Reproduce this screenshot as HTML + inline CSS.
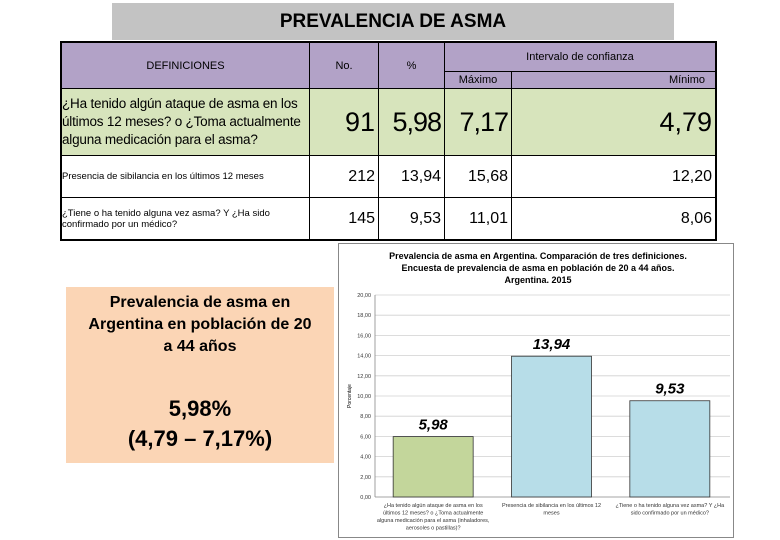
<!DOCTYPE html>
<html><head><meta charset="utf-8"><style>
body{margin:0;background:#fff;font-family:"Liberation Sans",sans-serif;}
#pg{position:relative;width:780px;height:540px;overflow:hidden;background:#fff;}
.a{position:absolute;box-sizing:border-box;}
.c{border-right:1px solid #000;border-bottom:1px solid #000;display:flex;align-items:center;}
.n{justify-content:flex-end;padding-right:3px;}
</style></head><body>
<div id="pg">
<div class="a" style="left:112px;top:3px;width:562px;height:37px;background:#c3c3c3;font-size:19px;font-weight:bold;display:flex;align-items:center;justify-content:center;">PREVALENCIA DE ASMA</div>

<div class="a" style="left:60px;top:41px;width:657px;height:200px;border:2px solid #000;">
 <div class="a c" style="left:0;top:0;width:248px;height:46px;background:#b2a2c7;justify-content:center;font-size:11px;">DEFINICIONES</div>
 <div class="a c" style="left:248px;top:0;width:69px;height:46px;background:#b2a2c7;justify-content:center;font-size:11px;">No.</div>
 <div class="a c" style="left:317px;top:0;width:66px;height:46px;background:#b2a2c7;justify-content:center;font-size:11px;">%</div>
 <div class="a c" style="left:383px;top:0;width:270px;height:29px;background:#b2a2c7;justify-content:center;font-size:11px;border-right:none;">Intervalo de confianza</div>
 <div class="a c" style="left:383px;top:29px;width:67px;height:17px;background:#b2a2c7;justify-content:center;font-size:11px;">Máximo</div>
 <div class="a c" style="left:450px;top:29px;width:203px;height:17px;background:#b2a2c7;justify-content:flex-end;padding-right:10px;font-size:11px;border-right:none;">Mínimo</div>

 <div class="a c" style="left:0;top:46px;width:248px;height:67px;background:#d7e4bc;font-size:13.5px;line-height:18px;letter-spacing:-0.2px;">¿Ha tenido algún ataque de asma en los últimos 12 meses? o ¿Toma actualmente alguna medicación para el asma?</div>
 <div class="a c n" style="left:248px;top:46px;width:69px;height:67px;background:#d7e4bc;font-size:27px;">91</div>
 <div class="a c n" style="left:317px;top:46px;width:66px;height:67px;background:#d7e4bc;font-size:27px;letter-spacing:-1px;">5,98</div>
 <div class="a c n" style="left:383px;top:46px;width:67px;height:67px;background:#d7e4bc;font-size:27px;letter-spacing:-1px;">7,17</div>
 <div class="a c n" style="left:450px;top:46px;width:203px;height:67px;background:#d7e4bc;font-size:27px;border-right:none;">4,79</div>

 <div class="a c" style="left:0;top:113px;width:248px;height:42px;font-size:9.5px;">Presencia de sibilancia en los últimos 12 meses</div>
 <div class="a c n" style="left:248px;top:113px;width:69px;height:42px;font-size:16px;">212</div>
 <div class="a c n" style="left:317px;top:113px;width:66px;height:42px;font-size:16px;">13,94</div>
 <div class="a c n" style="left:383px;top:113px;width:67px;height:42px;font-size:16px;">15,68</div>
 <div class="a c n" style="left:450px;top:113px;width:203px;height:42px;font-size:16px;border-right:none;">12,20</div>

 <div class="a c" style="left:0;top:155px;width:248px;height:41px;font-size:9.5px;line-height:11px;border-bottom:none;">¿Tiene o ha tenido alguna vez asma? Y ¿Ha sido confirmado por un médico?</div>
 <div class="a c n" style="left:248px;top:155px;width:69px;height:41px;font-size:16px;border-bottom:none;">145</div>
 <div class="a c n" style="left:317px;top:155px;width:66px;height:41px;font-size:16px;border-bottom:none;">9,53</div>
 <div class="a c n" style="left:383px;top:155px;width:67px;height:41px;font-size:16px;border-bottom:none;">11,01</div>
 <div class="a c n" style="left:450px;top:155px;width:203px;height:41px;font-size:16px;border:none;">8,06</div>
</div>

<div class="a" style="left:66px;top:287px;width:268px;height:176px;background:#fbd5b5;text-align:center;font-size:16px;font-weight:bold;line-height:22px;padding-top:5px;">
 <div>Prevalencia de asma en<br>Argentina en población de 20<br>a 44 años</div>
 <div style="font-size:22px;line-height:30px;margin-top:36px;">5,98%<br>(4,79 – 7,17%)</div>
</div>

<svg class="a" style="left:338px;top:243px;" width="396" height="295" font-family="Liberation Sans, sans-serif">
 <rect x="0.5" y="0.5" width="395" height="294" fill="#fff" stroke="#888"/>
 <text x="200" y="16" font-size="9" font-weight="bold" text-anchor="middle">Prevalencia de asma en Argentina. Comparación de tres definiciones.</text>
 <text x="200" y="28" font-size="9" font-weight="bold" text-anchor="middle">Encuesta de prevalencia de asma en población de 20 a 44 años.</text>
 <text x="200" y="40" font-size="9" font-weight="bold" text-anchor="middle">Argentina. 2015</text>
 <text transform="translate(13,153) rotate(-90)" font-size="5" text-anchor="middle">Porcentaje</text>
 <g id="g"></g>
</svg>
<script>
const categories=["¿Ha tenido algún ataque de asma en los últimos 12 meses? o ¿Toma actualmente alguna medicación para el asma (inhaladores, aerosoles o pastillas)?","Presencia de sibilancia en los últimos 12 meses","¿Tiene o ha tenido alguna vez asma? Y ¿Ha sido confirmado por un médico?"];
const values=[5.98,13.94,9.53];
const valueLabels=["5,98","13,94","9,53"];
const ticks=[0,2,4,6,8,10,12,14,16,18,20];
const tickLabels=["0,00","2,00","4,00","6,00","8,00","10,00","12,00","14,00","16,00","18,00","20,00"];
const catLines=[["¿Ha tenido algún ataque de asma en los","últimos 12 meses? o ¿Toma actualmente","alguna medicación para el asma (inhaladores,","aerosoles o pastillas)?"],["Presencia de sibilancia en los últimos 12","meses"],["¿Tiene o ha tenido alguna vez asma? Y ¿Ha","sido confirmado por un médico?"]];
const NS="http://www.w3.org/2000/svg";
const g=document.getElementById('g');
const X0=37,X1=392,Y0=254,Y1=52;
const y=v=>Y0-(v/20)*(Y0-Y1);
const bw=(X1-X0)/categories.length;
const xc=i=>X0+bw*(i+0.5)-1;
function mk(t,a,txt){const e=document.createElementNS(NS,t);for(const k in a)e.setAttribute(k,a[k]);if(txt!==undefined)e.textContent=txt;g.appendChild(e);return e;}
ticks.forEach((t,i)=>{
 const l=mk('line',{x1:X0,x2:X1,y1:y(t),y2:y(t),stroke:i?'#d0d0d0':'#888','stroke-width':0.8});
 
 
 const tx=mk('text',{x:X0-4,y:y(t)+2,'font-size':5.5,'text-anchor':'end',fill:'#333'},tickLabels[i]);
 
 
});
const ax=mk('line',{x1:X0,x2:X0,y1:Y1,y2:Y0,stroke:'#888','stroke-width':0.8});


values.forEach((v,i)=>{
 const r=mk('rect',{x:xc(i)-40,y:y(v),width:80,height:Y0-y(v),fill:i===0?'#c3d69b':'#b7dde8',stroke:'#333','stroke-width':0.8});
 
 
 const t=mk('text',{x:xc(i),y:y(v)-7,'font-size':15,'font-weight':'bold','font-style':'italic','text-anchor':'middle'},valueLabels[i]);
 
 
 catLines[i].forEach((ln,j)=>{
  const c=mk('text',{x:xc(i),y:Y0+10+j*7.5,'font-size':5.5,'text-anchor':'middle',fill:'#333'},ln);
  
  
 });
});
</script>
</div>
</body></html>
